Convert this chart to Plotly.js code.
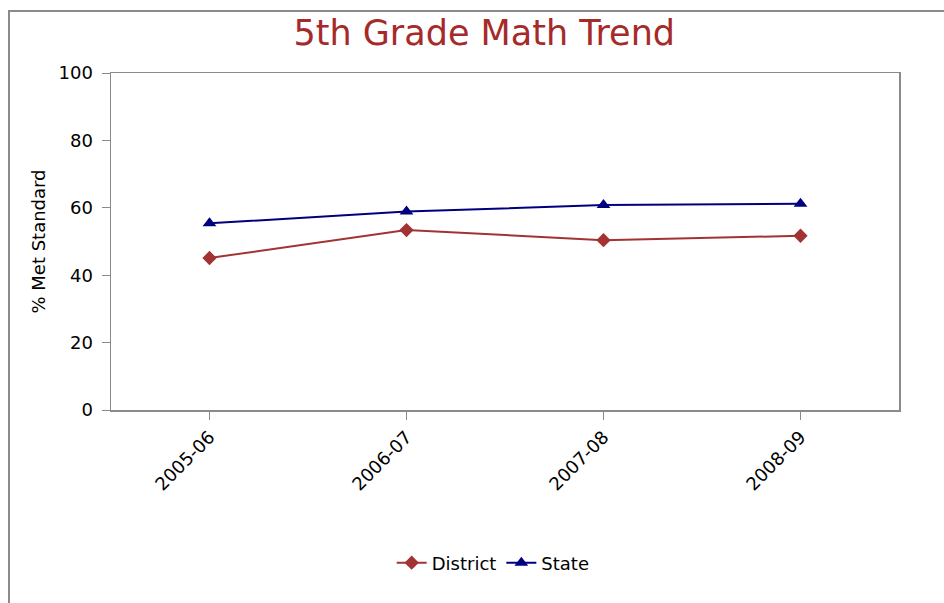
<!DOCTYPE html>
<html>
<head>
<meta charset="utf-8">
<script src="https://cdn.plot.ly/plotly-3.0.1.min.js"></script>
<style>
  html, body { margin: 0; padding: 0; background: #fff; }
  #wrap { position: relative; width: 944px; height: 603px; overflow: hidden; }
  #chart { position: absolute; left: 0; top: 0; width: 944px; height: 603px; }
  #frame { position: absolute; left: 8px; top: 10px; width: 1000px; height: 700px;
           border-top: 2px solid #8a8a8a; border-left: 2px solid #8a8a8a; pointer-events: none; }
</style>
</head>
<body>
<div id="wrap">
  <div id="chart"></div>
  <div id="frame"></div>
</div>
<script>
const years = ["2005-06", "2006-07", "2007-08", "2008-09"];
const districtValues = [45.1, 53.4, 50.4, 51.7];
const stateValues = [55.4, 58.9, 60.8, 61.2];
const yTicks = [0, 20, 40, 60, 80, 100];

const font = "DejaVu Sans, Verdana, sans-serif";

const traces = [
  {
    x: years, y: districtValues, name: "District", type: "scatter", mode: "lines+markers",
    line: { color: "#a33333", width: 2 },
    marker: { symbol: "diamond", size: 11, color: "#a33333" }
  },
  {
    x: years, y: stateValues, name: "State", type: "scatter", mode: "lines+markers",
    line: { color: "#00007f", width: 2 },
    marker: { symbol: "triangle-up", size: 12, color: "#00007f" }
  }
];

const layout = {
  width: 944, height: 603,
  margin: { l: 111, r: 45, t: 73, b: 193 },
  paper_bgcolor: "rgba(0,0,0,0)", plot_bgcolor: "#fff",
  showlegend: true,
  title: {
    text: "5th Grade Math Trend",
    font: { family: font, size: 35, color: "#a52a2a" },
    xref: "container", x: 0.513, xanchor: "center",
    yref: "container", y: 0.945, yanchor: "middle"
  },
  xaxis: {
    type: "category", range: [-0.5, 3.5],
    showline: true, mirror: true, linecolor: "#8a8a8a", linewidth: 1.5,
    ticks: "outside", ticklen: 8, tickcolor: "#8a8a8a",
    tickangle: -45, showgrid: false, zeroline: false,
    tickfont: { family: font, size: 18, color: "#000" }
  },
  yaxis: {
    range: [0, 100], tickvals: yTicks,
    showline: true, mirror: true, linecolor: "#8a8a8a", linewidth: 1.5,
    ticks: "outside", ticklen: 8, tickcolor: "#8a8a8a",
    ticklabelstandoff: 5,
    showgrid: false, zeroline: false,
    tickfont: { family: font, size: 18, color: "#000" },
    title: { text: "% Met Standard", font: { family: font, size: 18, color: "#000" }, standoff: 8 }
  },
  legend: {
    orientation: "h", x: 0.485, xanchor: "center", y: -0.454, yanchor: "middle",
    font: { family: font, size: 18, color: "#000" },
    itemwidth: 30, tracegroupgap: 0
  }
};

Plotly.newPlot("chart", traces, layout, { displayModeBar: false, staticPlot: true });
</script>
</body>
</html>
